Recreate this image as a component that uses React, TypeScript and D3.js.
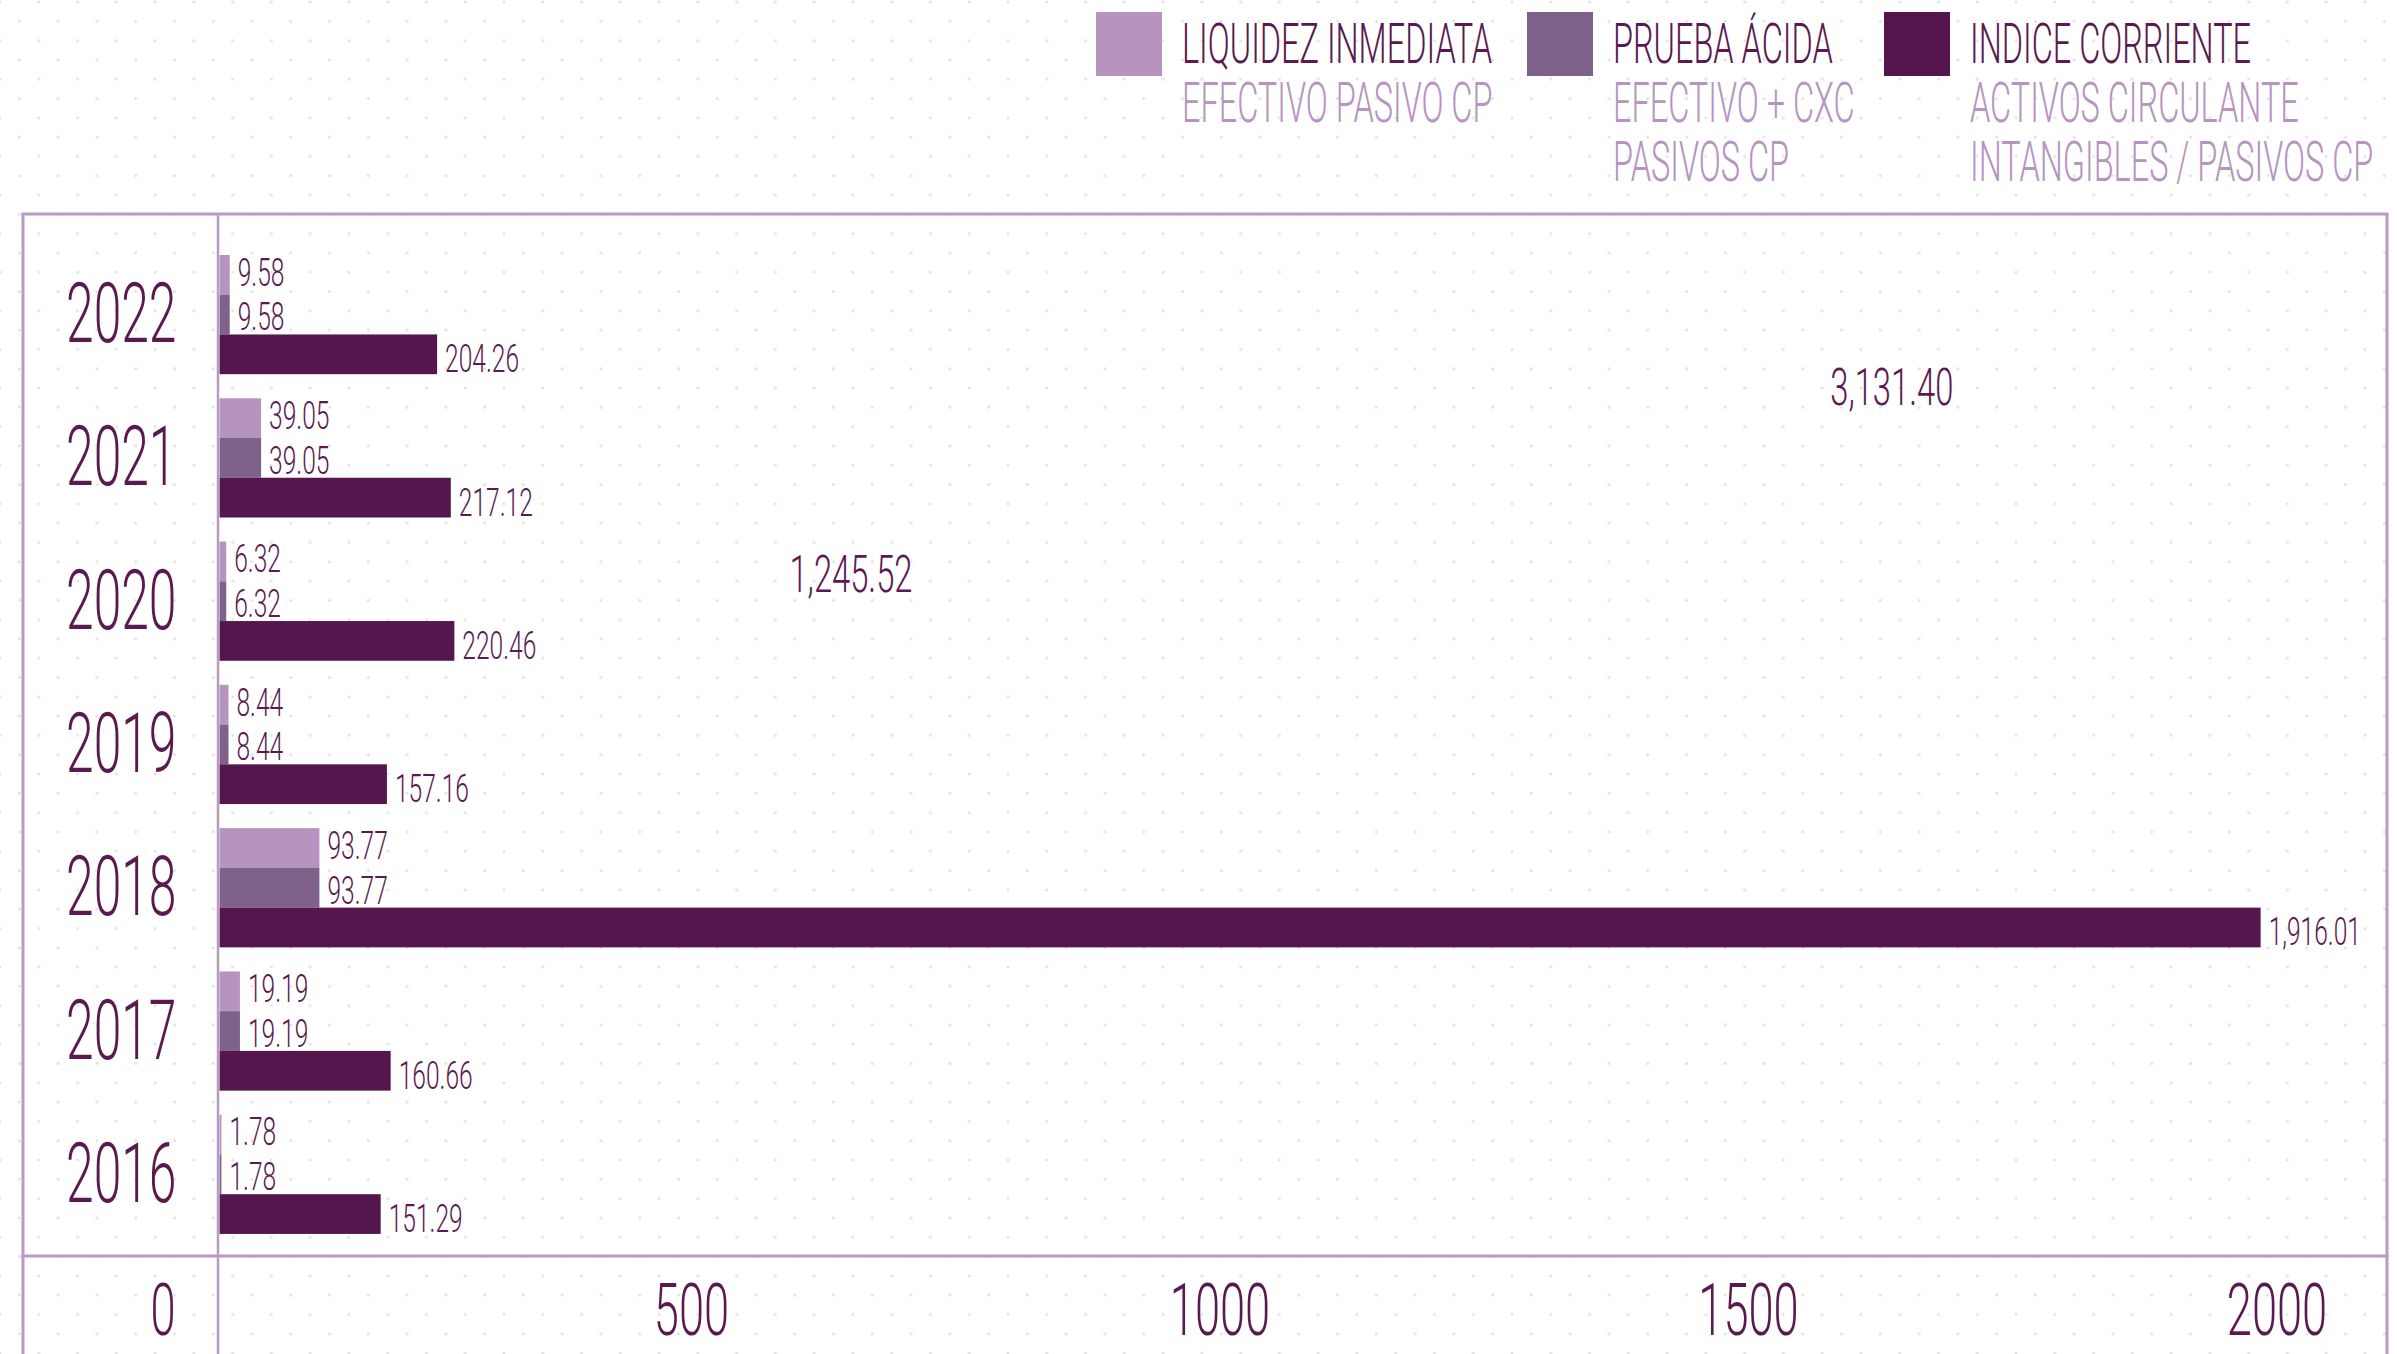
import React from "react";
import * as d3 from "d3";

// ---------- data ----------
const years = ["2022", "2021", "2020", "2019", "2018", "2017", "2016"];
const liquidezInmediata = [9.58, 39.05, 6.32, 8.44, 93.77, 19.19, 1.78];
const pruebaAcida = [9.58, 39.05, 6.32, 8.44, 93.77, 19.19, 1.78];
const indiceCorriente = [204.26, 217.12, 220.46, 157.16, 1916.01, 160.66, 151.29];
const seriesNames = ["LIQUIDEZ INMEDIATA", "PRUEBA ÁCIDA", "INDICE CORRIENTE"];
const seriesNotes = [
  ["EFECTIVO PASIVO CP"],
  ["EFECTIVO + CXC", "PASIVOS CP"],
  ["ACTIVOS CIRCULANTE", "INTANGIBLES / PASIVOS CP"],
];
const xTicks = [0, 500, 1000, 1500, 2000];
// stray value labels of the original (no visible bars)
const floatingValues = [3131.4, 1245.52];
const floatingX = [1512, 535]; // position on the value axis
const floatingRow = [0.5, 1.81]; // position in rows (0 = 2022)

// ---------- layout / style ----------
const W = 2397;
const H = 1354;
const frameLeft = 23;
const frameRight = 2387;
const plotTop = 214;
const plotBottom = 1256;
const zeroX = 219.5;
const colors = ["#b794c0", "#7e6289", "#55164d"];
const textColor = "#5a1a50";
const frameColor = "#b99ac4";
const FONT = "Roboto, 'Noto Sans', sans-serif";
const fmt = d3.format(",.2f");

function CText(props: {
  x: number;
  y: number;
  size: number;
  sx: number;
  anchor?: string;
  fill?: string;
  children: React.ReactNode;
}) {
  const { x, y, size, sx, anchor = "start", fill = textColor, children } = props;
  return (
    <text
      transform={`translate(${x},${y}) scale(${sx},1)`}
      fontFamily={FONT}
      fontWeight={300}
      fontSize={size}
      textAnchor={anchor}
      fill={fill}
    >
      {children}
    </text>
  );
}

export default function App() {
  const series = [liquidezInmediata, pruebaAcida, indiceCorriente];

  const x = d3.scaleLinear().domain([0, 2000]).range([zeroX, zeroX + 2130.6]);
  // tick labels sit slightly left of their tick values in the original
  const xLabel = d3.scaleLinear().domain([0, 2000]).range([163, 2277]);
  const y = d3
    .scaleBand<string>()
    .domain(years)
    .range([plotTop, plotBottom])
    .paddingInner(0.168)
    .paddingOuter(0.22)
    .align(0.65);
  const sub = d3
    .scaleBand<number>()
    .domain([0, 1, 2])
    .range([0, y.bandwidth()])
    .padding(0);
  const rowY = d3
    .scaleLinear()
    .domain([0, years.length - 1])
    .range([
      (y(years[0]) as number) + y.bandwidth() / 2,
      (y(years[years.length - 1]) as number) + y.bandwidth() / 2,
    ]);

  const labelShift = [10.9, 15.9, 17.9];
  const legendX = [1096, 1527, 1884];

  return (
    <svg
      width={W}
      height={H}
      style={{ position: "absolute", left: 0, top: 0, display: "block" }}
    >
      <defs>
        <pattern
          id="dots"
          patternUnits="userSpaceOnUse"
          x={0}
          y={2}
          width={38.77}
          height={38.6}
        >
          <circle cx={0} cy={0} r={1.6} fill="#e3e3e3" />
          <circle cx={38.77} cy={0} r={1.6} fill="#e3e3e3" />
          <circle cx={0} cy={38.6} r={1.6} fill="#e3e3e3" />
          <circle cx={38.77} cy={38.6} r={1.6} fill="#e3e3e3" />
          <circle cx={19.385} cy={19.3} r={1.6} fill="#e3e3e3" />
        </pattern>
      </defs>
      <rect x={0} y={0} width={W} height={H} fill="#ffffff" />
      <rect x={0} y={0} width={W} height={H} fill="url(#dots)" />

      {/* legend */}
      {seriesNames.map((name, i) => (
        <g key={name}>
          <rect x={legendX[i]} y={12} width={66} height={64} fill={colors[i]} />
          <CText x={legendX[i] + 86} y={63} size={56} sx={0.58}>
            {name}
          </CText>
          {seriesNotes[i].map((line, j) => (
            <CText
              key={line}
              x={legendX[i] + 86}
              y={122 + j * 58.5}
              size={56}
              sx={0.58}
              fill={colors[0]}
            >
              {line}
            </CText>
          ))}
        </g>
      ))}

      {/* bars */}
      {years.map((yr, yi) => (
        <g key={yr}>
          {series.map((vals, si) => {
            const y0 = (y(yr) as number) + (sub(si) as number);
            return (
              <rect
                key={si}
                x={x(0)}
                y={y0}
                width={x(vals[yi]) - x(0)}
                height={sub.bandwidth()}
                fill={colors[si]}
              />
            );
          })}
          {series.map((vals, si) => {
            const yc =
              (y(yr) as number) + (sub(si) as number) + sub.bandwidth() / 2;
            return (
              <CText
                key={"l" + si}
                x={x(vals[yi]) + 8}
                y={yc + labelShift[si]}
                size={39}
                sx={0.63}
              >
                {fmt(vals[yi])}
              </CText>
            );
          })}
          <CText
            x={(frameLeft + zeroX) / 2}
            y={(y(yr) as number) + y.bandwidth() / 2 + 27.5}
            size={83}
            sx={0.6}
            anchor="middle"
          >
            {yr}
          </CText>
        </g>
      ))}

      {/* stray labels */}
      {floatingValues.map((v, i) => (
        <CText
          key={"f" + i}
          x={x(floatingX[i])}
          y={rowY(floatingRow[i]) + 18.5}
          size={52}
          sx={0.63}
        >
          {fmt(v)}
        </CText>
      ))}

      {/* frame */}
      <g stroke={frameColor} fill="none">
        <line x1={frameLeft - 1.5} x2={frameRight + 1.5} y1={plotTop} y2={plotTop} strokeWidth={3} />
        <line x1={frameLeft - 1.5} x2={frameRight + 1.5} y1={plotBottom} y2={plotBottom} strokeWidth={3} />
        <line x1={frameLeft} x2={frameLeft} y1={plotTop} y2={H} strokeWidth={3} />
        <line x1={frameRight} x2={frameRight} y1={plotTop} y2={H} strokeWidth={3} />
        <line x1={x(0) - 1.5} x2={x(0) - 1.5} y1={plotTop} y2={H} strokeWidth={2.5} />
      </g>

      {/* x tick labels */}
      {xTicks.map((t) => (
        <CText key={t} x={xLabel(t)} y={1335} size={73} sx={0.62} anchor="middle">
          {String(t)}
        </CText>
      ))}
    </svg>
  );
}
